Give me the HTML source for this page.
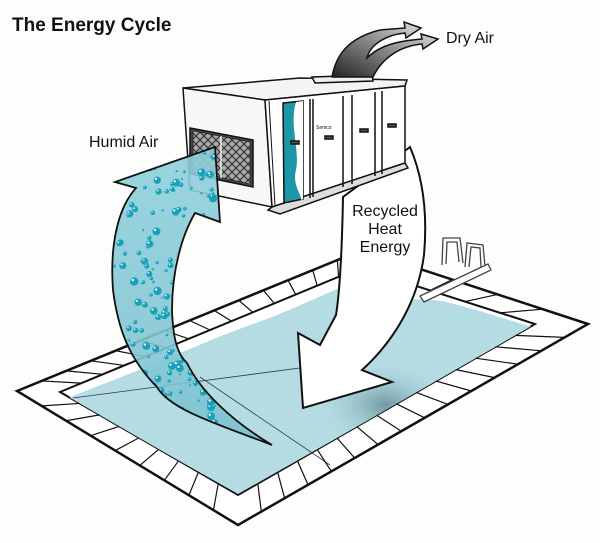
<!DOCTYPE html>
<html><head><meta charset="utf-8"><style>
html,body{margin:0;padding:0;background:#fdfdfb;}
svg{display:block}
text{font-family:"Liberation Sans",Arial,sans-serif;fill:#111}
</style></head><body>
<svg id="s" width="600" height="543" viewBox="0 0 600 543" xmlns="http://www.w3.org/2000/svg">
<defs>
<linearGradient id="dry" x1="0" y1="1" x2="1" y2="0">
<stop offset="0" stop-color="#222"/><stop offset="0.5" stop-color="#888"/><stop offset="1" stop-color="#eee"/>
</linearGradient>
<linearGradient id="hum" x1="0" y1="0" x2="0" y2="1">
<stop offset="0" stop-color="#8fd0dc"/><stop offset="1" stop-color="#7cc2d0"/>
</linearGradient>
<radialGradient id="shade" cx="0.5" cy="0.5" r="0.5">
<stop offset="0" stop-color="#5f8893"/><stop offset="1" stop-color="#b0d9e1" stop-opacity="0"/>
</radialGradient>
<pattern id="lat" width="8" height="8" patternUnits="userSpaceOnUse">
<rect width="8" height="8" fill="#aaa"/>
<path d="M0,4 L4,0 L8,4 L4,8 Z" fill="none" stroke="#333" stroke-width="1.2"/>
</pattern>
<clipPath id="pc"><polygon points="60,392 360,268 535,324 238,495"/></clipPath>
<clipPath id="hc"><path id="humpath" d="M272,445 C220,425 170,410 157,387 C130,360 118,330 113,290 C110,250 116,210 136,188 L115,182 L215,147 L220,222 L195,213 C182,235 172,270 172,310 C173,340 178,355 187,363 C200,390 230,420 272,445 Z"/></clipPath>
</defs>
<rect width="600" height="543" fill="#fdfdfb"/>
<!-- pool -->
<polygon points="17,391 362,250 588,324 238,525" fill="#fff" stroke="#111" stroke-width="2.5"/>
<polygon points="60,392 360,268 535,324 238,495" fill="#fff" stroke="#111" stroke-width="2"/>
<g clip-path="url(#pc)">
<path d="M68,398 C100,385 133,373 180,353 C200,345 217,337 250,325 C280,315 300,305 353,282 L385,285 L400,300 C420,298 440,300 450,303 C480,310 500,318 533,327 L238,494 Z" fill="#b5dce3"/>
<ellipse cx="385" cy="405" rx="70" ry="45" fill="url(#shade)" opacity="0.8"/>
</g>
<line x1="73" y1="398" x2="345" y2="362" stroke="#335" stroke-width="0.8"/>
<line x1="200" y1="377" x2="330" y2="465" stroke="#335" stroke-width="0.8"/>
<g id="tiles" stroke="#111" stroke-width="1.2"></g>
<!-- ladder -->
<g fill="none" stroke="#444" stroke-width="1.3">
<path d="M442,265 L443,238 L460,238 L463,263"/>
<path d="M446,264 L447,242 L457,242 L459,262"/>
<path d="M465,267 L467,243 L483,245 L485,267"/>
<path d="M469,267 L471,247 L480,248 L481,267"/>
<polygon points="420,296 488,264 491,270 424,302" fill="#fff"/>
</g>
<!-- recycled arrow -->
<path d="M343,197 C342,250 340,290 336,315 L320,345 L298,333 L303,408 L392,382 L362,370 C395,340 418,300 424,255 C428,210 422,175 410,147 Z" fill="#fff" stroke="#111" stroke-width="2"/>
<!-- unit -->
<g stroke="#111" stroke-width="1.5">
<polygon points="183,88 265,100 405,86 407,80 300,78" fill="#f4f4f4"/>
<polygon points="183,88 265,100 272,207 190,190" fill="#f7f7f7"/>
<polygon points="265,100 405,86 405,163 272,207" fill="#fff"/>
<polygon points="268,210 272,207 405,163 408,168 280,214" fill="#ddd"/>
<polygon points="190,128 253,140 253,187 190,174" fill="#444"/>
<polygon points="193,131 250,142 250,184 193,171" fill="url(#lat)" stroke-width="0.6"/>
<line x1="221" y1="136" x2="221" y2="178" stroke="#eee" stroke-width="1.5"/>
<line x1="269" y1="101" x2="275" y2="206" stroke-width="1"/>
<path d="M283,103 L303,101 L303,199 L284,203 Z" fill="#1d97a7"/>
<path d="M296,102 C289,125 300,150 296,170 C292,185 302,195 301,200 L303,199 L303,101 Z" fill="#fff" stroke="none"/>
<line x1="310" y1="99" x2="310" y2="198"/>
<line x1="313" y1="99" x2="313" y2="197"/>
<line x1="343" y1="96" x2="343" y2="187"/>
<line x1="352" y1="95" x2="352" y2="184"/>
<line x1="375" y1="92" x2="375" y2="176"/>
<line x1="382" y1="91" x2="382" y2="174"/>
<rect x="291" y="141" width="8" height="3" fill="#555"/>
<rect x="325" y="136" width="8" height="3" fill="#555"/>
<rect x="360" y="129" width="8" height="3" fill="#555"/>
<rect x="388" y="124" width="8" height="3" fill="#555"/>
<polygon points="312,77 372,75 373,81 315,83" fill="#eee"/>
</g>
<text x="316" y="129" font-size="5" fill="#1d97a7">Semco</text>
<!-- dry air -->
<path d="M332,77 C336,55 348,38 380,30 L405,28 L404,22 L421,28 L406,38 L405,33 C385,35 370,45 367,58 C380,45 398,41 422,39 L421,34 L438,39 L423,49 L422,44 C400,46 382,58 373,77 Z" fill="url(#dry)" stroke="#111" stroke-width="1.5"/>
<!-- humid arrow -->
<use href="#humpath" fill="url(#hum)" opacity="0.9"/>
<g id="drops" clip-path="url(#hc)"></g>
<use href="#humpath" fill="none" stroke="#111" stroke-width="1.8"/>
<!-- text -->
<text x="12" y="31" font-size="19" font-weight="bold">The Energy Cycle</text>
<text x="446" y="43" font-size="16">Dry Air</text>
<text x="89" y="147" font-size="16">Humid Air</text>
<text x="385" y="216" font-size="16" text-anchor="middle">Recycled</text>
<text x="385" y="234" font-size="16" text-anchor="middle">Heat</text>
<text x="385" y="252" font-size="16" text-anchor="middle">Energy</text>
</svg>
<script>
var NS="http://www.w3.org/2000/svg";
function L(p,q,t){return [p[0]+(q[0]-p[0])*t,p[1]+(q[1]-p[1])*t];}
var O=[[17,391],[238,525],[588,324],[362,250]],I=[[60,392],[238,495],[535,324],[360,268]];
var N=[9,15,5,14],g=document.getElementById("tiles");
for(var e=0;e<4;e++){var a=O[e],b=O[(e+1)%4],c=I[e],d=I[(e+1)%4];
for(var k=1;k<N[e];k++){var t=k/N[e],p=L(a,b,t),q=L(c,d,t);
var l=document.createElementNS(NS,"line");l.setAttribute("x1",p[0]);l.setAttribute("y1",p[1]);l.setAttribute("x2",q[0]);l.setAttribute("y2",q[1]);g.appendChild(l);}}
var s=7,dg=document.getElementById("drops");
function r(){s=(s*16807)%2147483647;return s/2147483647;}
for(var i=0;i<280;i++){var x=105+r()*120,y=140+r()*310,rad=1+r()*3.2;
var c1=document.createElementNS(NS,"circle");c1.setAttribute("cx",x);c1.setAttribute("cy",y);c1.setAttribute("r",rad);c1.setAttribute("fill","#1aa0b8");dg.appendChild(c1);
var c2=document.createElementNS(NS,"circle");c2.setAttribute("cx",x-rad*0.35);c2.setAttribute("cy",y-rad*0.35);c2.setAttribute("r",rad*0.3);c2.setAttribute("fill","#e8fbff");dg.appendChild(c2);}
</script>
</body></html>
